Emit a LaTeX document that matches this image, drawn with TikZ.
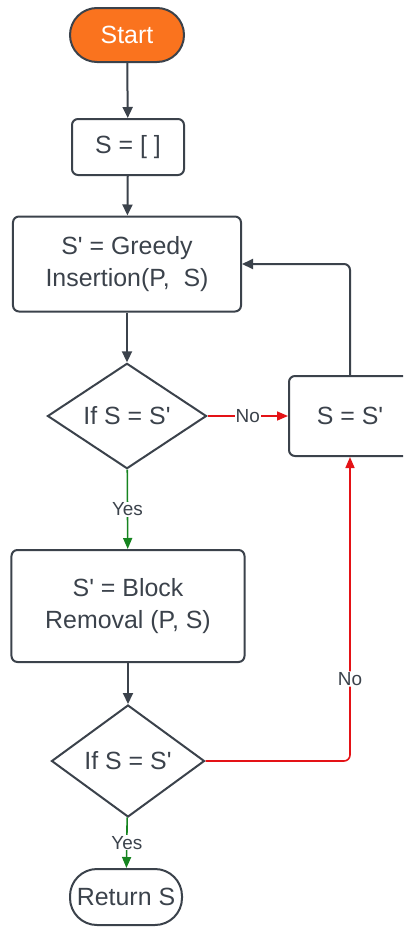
\documentclass[tikz,border=0pt]{standalone}
\usepackage{fontspec}
\setmainfont{Liberation Sans}
\usetikzlibrary{shapes.geometric,arrows.meta}
\definecolor{linegray}{RGB}{59,66,75}
\definecolor{startorange}{RGB}{250,115,30}
\definecolor{noRed}{RGB}{228,18,22}
\definecolor{yesGreen}{RGB}{22,132,32}
\newcommand{\pr}{\textquotesingle}
\tikzset{
  box/.style={draw=linegray,line width=2bp,rounded corners=6bp,text=linegray,align=center,
    inner sep=0pt,font=\fontsize{25}{33}\selectfont},
  pill/.style={box,rounded corners=27bp},
  cond/.style={draw=linegray,line width=2bp,diamond,text=linegray,inner sep=0pt,
    font=\fontsize{25}{33}\selectfont},
  arr/.style={draw=linegray,line width=2bp,-{Triangle[length=11bp,width=10bp]}},
  noarr/.style={draw=noRed,line width=1.6bp,-{Triangle[length=11bp,width=9bp]}},
  yesarr/.style={draw=yesGreen,line width=1.6bp,-{Triangle[length=11bp,width=9bp]}},
  lbl/.style={fill=white,text=linegray,inner sep=1bp,font=\fontsize{19}{22}\selectfont}
}
\begin{document}
\begin{tikzpicture}[x=1bp,y=-1bp]
                \clip (0,0) rectangle (403,927);
                \node[pill,fill=startorange,text=white,minimum width=114bp,minimum height=54bp] (start) at (127,35) {Start};
                \node[box,minimum width=112bp,minimum height=56bp] (init) at (128,147) {S = [ ]};
                \node[box,minimum width=228bp,minimum height=95bp] (greedy) at (127,264) {S\pr{} = Greedy\\Insertion(P,\ \ S)};
                \node[cond,minimum width=159bp,minimum height=100bp] (check1) at (127,416) {If S = S\pr};
                \node[box,minimum width=122bp,minimum height=80bp] (update) at (350,416) {S = S\pr};
                \node[box,minimum width=233bp,minimum height=112bp] (block) at (128,606) {S\pr{} = Block\\Removal (P, S)};
                \node[cond,minimum width=153bp,minimum height=112bp] (check2) at (128,761) {If S = S\pr};
                \node[pill,minimum width=112bp,minimum height=56bp] (ret) at (126,897) {Return S};

                \draw[arr] (start) -- (init);
                \draw[arr] (init) -- (greedy);
                \draw[arr] (greedy) -- (check1);
                \draw[noarr] (check1) -- node[lbl] {No} (update);
                \draw[arr,rounded corners=6bp] (update.north) |- (greedy.east);
                \draw[yesarr] (check1) -- node[lbl] {Yes} (block);
                \draw[arr] (block) -- (check2);
                \draw[noarr,rounded corners=6bp] (check2.east) -| node[lbl,pos=0.635] {No} (update.south);
                \draw[yesarr] (check2) -- node[lbl] {Yes} (ret);
\end{tikzpicture}
\end{document}
